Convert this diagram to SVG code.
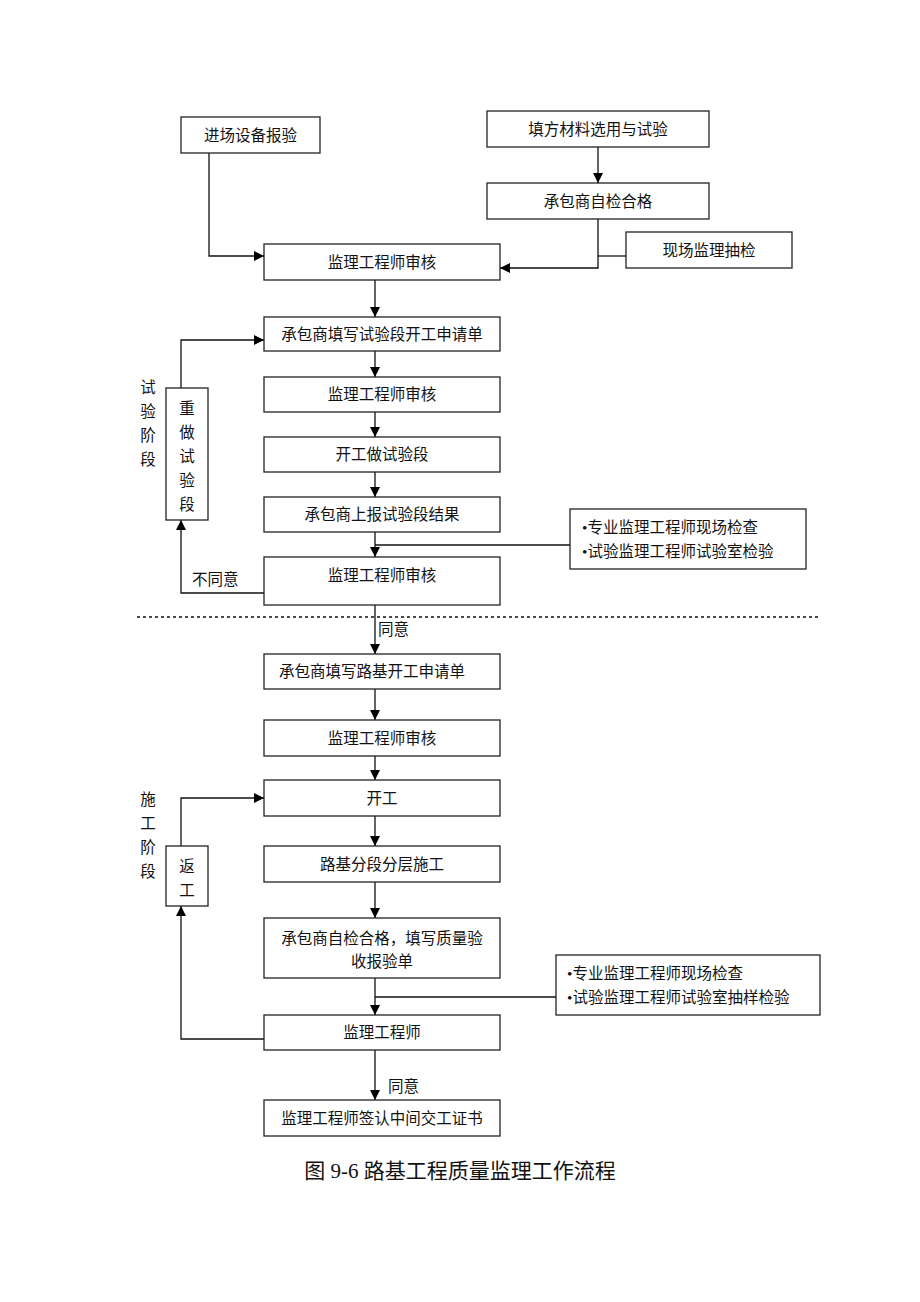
<svg xmlns="http://www.w3.org/2000/svg" width="920" height="1302" viewBox="0 0 920 1302">
<defs>
<marker id="ah" viewBox="0 0 10 10" refX="10" refY="5" markerWidth="10" markerHeight="10" markerUnits="userSpaceOnUse" orient="auto"><path d="M0,0 L10,5 L0,10 z" fill="#000"/></marker>
<style>
.b{fill:#fff;stroke:#222;stroke-width:1.3}
.t{font-family:"Liberation Serif","Noto Sans CJK SC",serif;font-size:15.5px;fill:#111;text-anchor:middle}
.tl{font-family:"Liberation Serif","Noto Sans CJK SC",serif;font-size:15.5px;fill:#111}
.c{fill:none;stroke:#111;stroke-width:1.3}
.a{fill:none;stroke:#111;stroke-width:1.3;marker-end:url(#ah)}
</style>
</defs>
<rect width="920" height="1302" fill="#fff"/>
<g id="connectors">
<path class="a" d="M209,153 V256 H264"/>
<path class="a" d="M598,147 V183"/>
<path class="a" d="M598,219 V268 H500"/>
<path class="c" d="M626,256 H598"/>
<path class="a" d="M375,280 V317"/>
<path class="a" d="M375,351 V377"/>
<path class="a" d="M375,412 V437"/>
<path class="a" d="M375,472 V497"/>
<path class="a" d="M375,532 V557"/>
<path class="c" d="M375,545 H570"/>
<path class="a" d="M264,593 H181 V520"/>
<path class="a" d="M181,388 V340 H264"/>
<path class="a" d="M375,605 V654"/>
<path class="c" d="M137,617 H818" stroke-dasharray="3,3"/>
<path class="a" d="M375,689 V720"/>
<path class="a" d="M375,756 V780"/>
<path class="a" d="M375,816 V846"/>
<path class="a" d="M375,882 V918"/>
<path class="a" d="M375,978 V1015"/>
<path class="c" d="M375,997 H556"/>
<path class="a" d="M264,1039 H181 V906"/>
<path class="a" d="M181,846 V798 H264"/>
<path class="a" d="M375,1050 V1100"/>
<text class="tl" x="192" y="585">不同意</text>
<text class="tl" x="378" y="635">同意</text>
<text class="tl" x="388" y="1092">同意</text>
</g>
<g id="n1"><rect class="b" x="181" y="117" width="139" height="36"/><text class="t" x="250.5" y="140.5">进场设备报验</text></g>
<g id="n2"><rect class="b" x="487" y="111" width="222" height="36"/><text class="t" x="598" y="134.5">填方材料选用与试验</text></g>
<g id="n3"><rect class="b" x="487" y="183" width="222" height="36"/><text class="t" x="598" y="206.5">承包商自检合格</text></g>
<g id="n4"><rect class="b" x="626" y="232" width="166" height="36"/><text class="t" x="709" y="255.5">现场监理抽检</text></g>
<g id="n5"><rect class="b" x="264" y="244" width="236" height="36"/><text class="t" x="382" y="267.5">监理工程师审核</text></g>
<g id="n6"><rect class="b" x="264" y="317" width="236" height="34"/><text class="t" x="382" y="339.5">承包商填写试验段开工申请单</text></g>
<g id="n7"><rect class="b" x="264" y="377" width="236" height="35"/><text class="t" x="382" y="400">监理工程师审核</text></g>
<g id="n8"><rect class="b" x="264" y="437" width="236" height="35"/><text class="t" x="382" y="460">开工做试验段</text></g>
<g id="n9"><rect class="b" x="264" y="497" width="236" height="35"/><text class="t" x="382" y="520">承包商上报试验段结果</text></g>
<g id="n10"><rect class="b" x="264" y="557" width="236" height="48"/><text class="t" x="382" y="581">监理工程师审核</text></g>
<g id="n11"><rect class="b" x="166" y="388" width="42" height="132"/>
<text class="t" x="187" y="414">重</text><text class="t" x="187" y="438">做</text><text class="t" x="187" y="462">试</text><text class="t" x="187" y="486">验</text><text class="t" x="187" y="510">段</text></g>
<g id="label1"><text class="t" x="148" y="393">试</text><text class="t" x="148" y="417">验</text><text class="t" x="148" y="441">阶</text><text class="t" x="148" y="465">段</text></g>
<g id="n12"><rect class="b" x="570" y="509" width="236" height="60"/>
<text class="tl" x="582" y="533">•专业监理工程师现场检查</text><text class="tl" x="582" y="557">•试验监理工程师试验室检验</text></g>
<g id="n13"><rect class="b" x="264" y="654" width="236" height="35"/><text class="t" x="372" y="677">承包商填写路基开工申请单</text></g>
<g id="n14"><rect class="b" x="264" y="720" width="236" height="36"/><text class="t" x="382" y="743.5">监理工程师审核</text></g>
<g id="n15"><rect class="b" x="264" y="780" width="236" height="36"/><text class="t" x="382" y="803.5">开工</text></g>
<g id="n16"><rect class="b" x="264" y="846" width="236" height="36"/><text class="t" x="382" y="869.5">路基分段分层施工</text></g>
<g id="n17"><rect class="b" x="264" y="918" width="236" height="60"/><text class="t" x="382" y="944">承包商自检合格，填写质量验</text><text class="t" x="382" y="967">收报验单</text></g>
<g id="n18"><rect class="b" x="264" y="1015" width="236" height="35"/><text class="t" x="382" y="1038">监理工程师</text></g>
<g id="n19"><rect class="b" x="264" y="1100" width="236" height="36"/><text class="t" x="382" y="1123.5">监理工程师签认中间交工证书</text></g>
<g id="n20"><rect class="b" x="166" y="846" width="42" height="60"/><text class="t" x="187" y="872">返</text><text class="t" x="187" y="896">工</text></g>
<g id="label2"><text class="t" x="148" y="805">施</text><text class="t" x="148" y="829">工</text><text class="t" x="148" y="853">阶</text><text class="t" x="148" y="877">段</text></g>
<g id="n21"><rect class="b" x="556" y="955" width="264" height="60"/>
<text class="tl" x="567" y="979">•专业监理工程师现场检查</text><text class="tl" x="567" y="1003">•试验监理工程师试验室抽样检验</text></g>
<text id="caption" x="460" y="1178" font-family="Liberation Serif,Noto Sans CJK SC,serif" font-size="21" fill="#111" text-anchor="middle">图 9-6 路基工程质量监理工作流程</text>
</svg>
